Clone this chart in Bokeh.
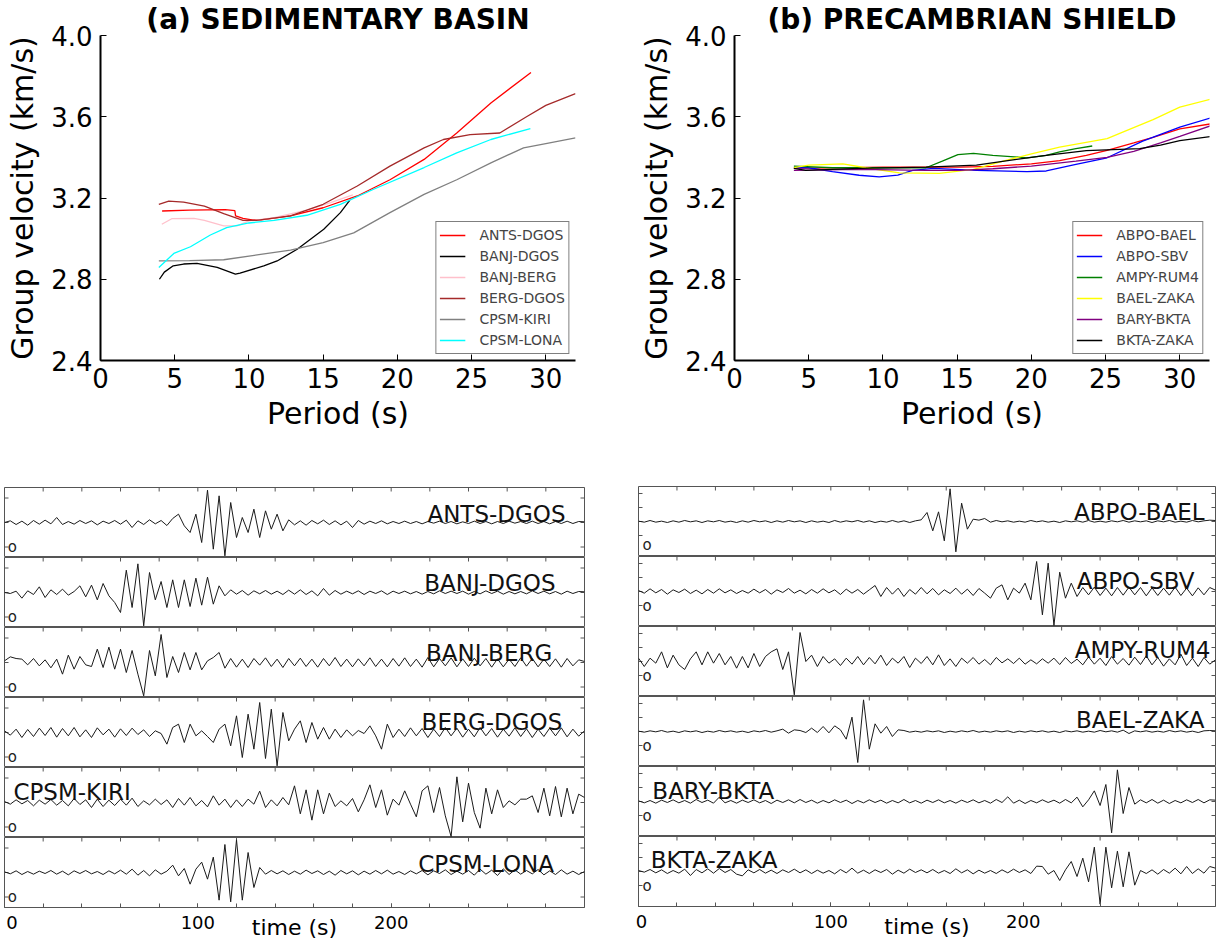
import numpy as np
from bokeh.plotting import figure
from bokeh.models import FixedTicker, PrintfTickFormatter, Range1d, LinearAxis
from bokeh.layouts import row, column
from bokeh.embed import file_html
from bokeh.resources import INLINE
from bokeh.core.properties import value

FONT = "DejaVu Sans"

# ---------------- (a) SEDIMENTARY BASIN : group velocity curves ----------------
a_names = ["ANTS-DGOS", "BANJ-DGOS", "BANJ-BERG", "BERG-DGOS", "CPSM-KIRI", "CPSM-LONA"]
a_colors = ["#ff0000", "#000000", "#ffc0cb", "#a52a2a", "#808080", "#00ffff"]

ants_dgos_period = [4.15, 6.0, 8.4, 9.05, 9.1, 9.6, 10.2, 10.8, 12.8, 15.0, 17.3, 19.5, 21.8, 24.0, 26.3, 29.0]
ants_dgos_vel = [3.136, 3.14, 3.143, 3.138, 3.112, 3.10, 3.092, 3.092, 3.112, 3.152, 3.21, 3.29, 3.39, 3.52, 3.668, 3.818]
banj_dgos_period = [3.97, 4.3, 4.9, 5.6, 6.5, 7.86, 9.09, 9.4, 11.0, 11.9, 13.25, 15.04, 16.16, 16.8]
banj_dgos_vel = [2.80, 2.835, 2.866, 2.875, 2.878, 2.858, 2.825, 2.83, 2.866, 2.89, 2.948, 3.046, 3.128, 3.19]
banj_berg_period = [4.13, 4.8, 6.3, 7.0, 8.3, 9.2, 10.0, 11.7, 13.9, 15.5, 17.0]
banj_berg_vel = [3.071, 3.098, 3.10, 3.09, 3.063, 3.063, 3.087, 3.103, 3.14, 3.177, 3.215]
berg_dgos_period = [3.93, 4.6, 5.6, 7.0, 8.3, 9.6, 10.5, 12.8, 15.0, 17.3, 19.5, 21.8, 23.1, 24.9, 26.9, 28.7, 30.0, 32.0]
berg_dgos_vel = [3.169, 3.185, 3.18, 3.16, 3.123, 3.09, 3.09, 3.112, 3.169, 3.259, 3.357, 3.447, 3.488, 3.512, 3.52, 3.60, 3.656, 3.714]
cpsm_kiri_period = [3.93, 6.0, 8.3, 10.55, 12.8, 15.0, 17.06, 19.5, 21.8, 24.0, 26.3, 28.5, 30.0, 32.0]
cpsm_kiri_vel = [2.89, 2.892, 2.896, 2.92, 2.943, 2.98, 3.028, 3.128, 3.218, 3.29, 3.373, 3.447, 3.468, 3.496]
cpsm_lona_period = [3.93, 4.94, 6.06, 7.4, 8.5, 10.0, 11.7, 13.9, 16.16, 18.4, 21.8, 24.0, 26.3, 28.96]
cpsm_lona_vel = [2.858, 2.927, 2.96, 3.018, 3.054, 3.077, 3.09, 3.115, 3.169, 3.243, 3.35, 3.422, 3.488, 3.542]

# ---------------- (b) PRECAMBRIAN SHIELD : group velocity curves ----------------
b_names = ["ABPO-BAEL", "ABPO-SBV", "AMPY-RUM4", "BAEL-ZAKA", "BARY-BKTA", "BKTA-ZAKA"]
b_colors = ["#ff0000", "#0000ff", "#008000", "#ffff00", "#800080", "#000000"]

abpo_bael_period = [4.0, 10.0, 15.2, 17.4, 20.0, 21.9, 23.7, 25.1, 26.9, 28.2, 30.0, 32.1]
abpo_bael_vel = [3.346, 3.352, 3.352, 3.356, 3.368, 3.384, 3.41, 3.435, 3.471, 3.499, 3.54, 3.565]
abpo_sbv_period = [4.0, 5.0, 6.6, 8.4, 9.75, 11.0, 12.0, 13.4, 16.3, 19.7, 21.0, 23.0, 25.1, 27.5, 30.0, 32.1]
abpo_sbv_vel = [3.349, 3.349, 3.33, 3.312, 3.304, 3.313, 3.336, 3.346, 3.336, 3.33, 3.333, 3.365, 3.398, 3.48, 3.549, 3.595]
ampy_rum4_period = [4.0, 6.6, 12.9, 14.0, 15.05, 16.1, 17.4, 19.7, 21.0, 21.9, 23.0, 24.1]
ampy_rum4_vel = [3.357, 3.349, 3.349, 3.382, 3.414, 3.42, 3.41, 3.398, 3.41, 3.427, 3.443, 3.456]
bael_zaka_period = [4.0, 5.0, 7.3, 8.85, 11.1, 13.8, 16.1, 18.1, 20.0, 21.9, 25.1, 26.4, 28.2, 30.0, 32.1]
bael_zaka_vel = [3.349, 3.362, 3.368, 3.349, 3.324, 3.321, 3.341, 3.382, 3.417, 3.45, 3.492, 3.532, 3.586, 3.647, 3.687]
bary_bkta_period = [4.0, 8.4, 12.9, 15.2, 17.4, 20.0, 23.0, 25.1, 26.9, 28.7, 30.0, 32.1]
bary_bkta_vel = [3.336, 3.341, 3.336, 3.336, 3.344, 3.357, 3.382, 3.40, 3.43, 3.471, 3.503, 3.556]
bkta_zaka_period = [4.0, 4.8, 8.4, 12.9, 16.3, 19.0, 21.0, 23.7, 25.5, 27.3, 28.7, 30.0, 32.1]
bkta_zaka_vel = [3.346, 3.336, 3.346, 3.352, 3.362, 3.39, 3.41, 3.433, 3.438, 3.443, 3.46, 3.482, 3.503]

period_ticks = [0, 5, 10, 15, 20, 25, 30]
velocity_ticks = [2.4, 2.8, 3.2, 3.6, 4.0]

# ---------------- waveforms (amplitude every 3 s, 0..300 s) ----------------
time_step = 3
time_ticks = [0, 100, 200]
time_minor_ticks = [0, 20, 40, 60, 80, 100, 120, 140, 160, 180, 200, 220, 240, 260, 280, 300]

ants_dgos_wave = [
    0.0, 0.5, -0.6, 0.4, -0.8, 0.6, -0.5, 0.7, -0.4, 1.5,
    -0.6, 0.3, -0.5, 0.6, -0.3, 0.5, -0.7, 0.4, -0.3, 0.6,
    -0.5, 0.7, -1.5, 0.5, -0.6, 0.8, -0.4, 0.6, -0.9, 1.2,
    2.5, -1.0, -3.0, 2.5, -6.0, 9.7, -8.0, 8.0, -10.0, 6.0,
    -4.5, 1.5, -3.0, 4.0, -4.5, 3.5, -2.0, 2.5, -2.5, 0.8,
    -0.7, 0.5, -0.8, 0.6, -0.4, 0.7, -0.6, 0.5, -0.7, 0.4,
    -1.5, 0.6, -0.5, 0.4, -0.3, 0.5, -0.4, 0.3, -0.3, 0.4,
    -0.3, 0.3, -0.4, 0.3, -0.2, 0.4, -0.3, 0.3, -0.4, 0.2,
    -0.3, 0.4, -0.3, 0.3, -0.4, 0.3, -0.3, 0.4, -0.2, 0.3,
    -0.3, 0.4, -0.3, 0.3, -0.4, 0.3, -0.3, 0.4, -0.3, 0.3,
    0.2]
banj_dgos_wave = [
    0.0, -0.3, 0.4, -1.7, 0.5, -0.6, 1.7, -1.5, 0.8, -0.6,
    1.0, -0.8, 0.3, 2.0, -1.3, 2.2, -2.2, 2.7, -1.0, -3.0,
    -6.0, 6.7, -4.5, 8.6, -10.0, 6.0, -2.2, 3.3, -4.5, 3.8,
    -4.5, 3.8, -4.2, 4.3, -3.8, 4.6, -3.5, 2.0, -1.0, 0.8,
    -0.5, 0.6, -0.8, 0.5, -0.4, 0.6, -0.5, 0.4, -0.6, 0.7,
    -0.5, 0.8, -0.6, 0.5, -1.0, 1.2, -0.8, 0.6, -0.5, 0.4,
    -0.4, 0.5, -0.6, 0.4, -0.3, 0.5, -0.6, 0.4, -0.3, 0.4,
    -0.4, 0.3, -0.5, 0.3, -0.4, 0.5, -0.3, 0.4, -0.3, 0.4,
    -0.5, 0.3, -0.4, 0.5, -0.3, 0.4, -0.5, 0.3, -0.4, 0.3,
    -0.4, 0.5, -0.3, 0.4, -0.4, 0.3, -0.5, 0.4, -0.3, 0.3,
    0.2]
banj_berg_wave = [
    0.5, 1.7, 1.2, 1.0, -0.7, 1.2, -1.0, 0.8, -1.6, 1.0,
    -3.5, 2.2, -2.0, 1.8, -0.7, -1.2, 4.0, -1.5, 4.6, -2.0,
    4.0, -3.0, 3.6, -3.5, -10.0, 3.6, -4.0, 8.4, -4.5, 1.8,
    -3.0, 3.0, -2.2, 3.0, -2.2, 0.5, 1.5, 3.0, -1.7, 1.2,
    -1.4, 1.0, -1.5, 1.2, -0.8, 1.4, -1.2, 1.0, -1.5, 1.2,
    -1.0, 1.3, -1.2, 1.0, -1.4, 1.2, -1.0, 1.5, -1.2, 1.0,
    -1.3, 1.1, -1.0, 1.4, -1.2, 1.0, -1.3, 1.2, -1.1, 1.4,
    -1.2, 1.0, -1.4, 1.5, -1.3, 1.2, -1.0, 1.4, -1.3, 1.1,
    -1.2, 1.3, -1.0, 1.2, -1.4, 1.1, -1.3, 1.0, -1.2, 1.4,
    -1.1, 1.2, -1.3, 1.0, -1.2, 1.1, -1.4, 1.2, -1.0, 0.8,
    0.3]
berg_dgos_wave = [
    0.5, -0.8, 1.0, -1.5, 0.9, -1.2, 1.3, -0.9, 1.5, -1.4,
    1.2, -1.0, 1.5, -1.3, 0.8, -1.5, 1.4, -0.7, 1.0, -1.4,
    1.1, -0.9, 1.3, -0.6, 0.8, -1.2, 0.5, -0.3, -3.5, 1.5,
    2.5, -3.0, 2.5, -1.0, 0.5, -1.2, -3.0, 1.0, 2.5, -4.0,
    5.0, -7.5, 5.5, -5.0, 9.0, -7.8, 7.0, -10.0, 6.0, -2.5,
    1.0, 3.5, -3.0, 3.0, -2.0, 1.5, -2.0, 1.0, -1.5, 0.8,
    -1.0, 0.6, -0.3, 2.0, -1.0, -5.0, 2.5, -1.5, 1.0, -1.2,
    1.4, -1.0, 1.2, -1.5, 1.0, -1.2, 1.5, -1.0, 1.3, -1.4,
    1.0, -1.3, 1.5, -1.0, 1.2, -1.4, 1.0, -1.1, 1.4, -1.2,
    1.1, -1.5, 1.0, -1.2, 1.3, -1.0, 1.4, -1.3, 1.0, -1.1,
    0.5]
cpsm_kiri_wave = [
    0.3, -0.5, 0.8, -0.4, 0.6, -1.0, 0.7, -0.5, 0.9, -0.8,
    0.6, -1.0, 1.2, -0.6, 0.8, -1.5, 1.0, -1.2, 0.7, -0.9,
    1.0, -0.8, 1.3, -1.2, 0.5, -0.7, 1.0, -0.6, 0.8, -1.5,
    1.2, -0.8, 1.5, -1.0, 0.6, -1.3, 2.0, -0.8, 1.0, -1.5,
    0.8, -1.2, 1.0, -0.5, 3.4, -1.5, 0.8, -1.0, 1.5, -0.7,
    5.0, -3.4, 3.8, -5.3, 3.8, -3.4, 2.8, -1.2, 0.5, -1.0,
    1.2, -2.8, 0.8, 5.3, -1.5, 3.8, -3.8, 1.0, -0.8, 3.5,
    -0.5, -4.3, 3.5, 5.0, -3.0, 4.5, -4.0, -10.2, 7.7, -5.8,
    5.8, -3.0, -7.7, 4.3, -3.4, 3.8, -1.5, 0.5, -0.7, 1.0,
    1.0, 2.0, -3.0, 4.3, -4.0, 4.8, -4.3, 4.3, -3.4, 2.5,
    1.5]
cpsm_lona_wave = [
    0.2, -0.4, 0.5, -0.6, 0.3, -0.5, 0.4, -0.3, 0.6, -0.5,
    0.4, -0.7, 0.5, -0.3, 0.6, -0.4, 0.3, -0.6, 0.5, -0.4,
    0.7, -0.5, 1.0, -0.8, 0.6, -1.0, 0.8, -0.5, 0.4, 2.2,
    -1.0, 1.2, -3.5, 1.0, 3.1, -2.0, 4.6, -8.3, 8.4, -8.8,
    9.8, -8.3, 6.0, -4.5, 1.5, -0.5, 0.6, -0.4, 0.5, -0.6,
    0.4, -0.5, 0.7, -0.3, 0.5, -0.6, 0.4, -0.8, 0.6, -0.4,
    0.5, -0.7, 0.4, -0.5, 0.6, -0.4, 0.7, -0.5, 0.3, -0.6,
    0.5, -0.4, 0.6, -0.7, 0.5, -0.3, 0.8, -0.6, 0.4, -0.5,
    0.6, -0.8, 1.0, -0.5, 0.7, -0.9, 1.1, -0.6, 0.8, -0.5,
    0.6, -0.4, 0.9, -0.7, 0.5, -0.6, 0.8, -0.5, 0.4, -0.6,
    0.3]
abpo_bael_wave = [
    0.1, -0.2, 0.3, -0.2, 0.1, -0.3, 0.2, -0.2, 0.3, -0.1,
    0.2, -0.3, 0.2, -0.1, 0.3, -0.2, 0.1, -0.3, 0.2, -0.2,
    0.3, -0.1, 0.2, -0.3, 0.2, -0.2, 0.3, -0.1, 0.2, -0.3,
    0.2, -0.2, 0.1, -0.3, 0.3, -0.2, 0.2, -0.1, 0.3, -0.2,
    0.2, -0.3, 0.1, -0.2, 0.3, -0.2, 0.2, -0.3, 0.2, 0.5,
    2.7, -2.8, 2.9, -5.8, 9.8, -9.1, 5.5, -2.3, 0.7, 0.4,
    0.9, -0.2, 0.3, -0.1, 0.2, -0.2, 0.1, -0.2, 0.3, -0.1,
    0.2, -0.2, 0.1, -0.3, 0.2, -0.1, 0.2, -0.2, 0.3, -0.2,
    0.1, -0.2, 0.2, -0.1, 0.3, -0.2, 0.2, -0.1, 0.2, -0.3,
    0.2, -0.1, 0.3, -0.2, 0.1, -0.2, 0.3, -0.1, 0.2, 0.4,
    0.3]
abpo_sbv_wave = [
    0.3, -0.5, 0.8, -0.4, 0.6, -0.8, 0.5, -0.3, 0.7, -0.6,
    0.4, -0.7, 0.6, -0.5, 0.8, -0.4, 0.5, -0.6, 0.3, -0.5,
    0.7, -0.4, 0.6, -0.8, 0.5, -0.3, 0.9, -0.5, 0.4, -0.7,
    0.6, -0.5, 0.8, -0.4, 0.5, -0.9, 0.7, -0.5, 0.6, -0.8,
    0.5, 1.8, -1.5, 1.2, -0.8, 1.0, -1.5, 0.6, -0.8, 1.2,
    -0.7, 0.9, -1.0, 0.5, -0.6, 1.0, -0.8, 0.7, -1.2, 0.9,
    -0.5, -2.0, 1.0, 2.0, -2.5, 1.0, -0.5, 2.5, -2.5, 9.0,
    -7.0, 8.5, -10.2, 5.8, -2.0, 2.5, -1.5, 1.2, -1.0, 1.3,
    -1.2, 1.0, -1.3, 1.2, -1.1, 1.3, -1.0, 1.2, -1.3, 1.1,
    -1.2, 1.0, -1.1, 1.3, -1.2, 1.0, -1.3, 1.1, -1.0, 1.2,
    0.4]
ampy_rum4_wave = [
    1.0, -1.5, 1.0, -0.5, 2.9, -1.9, 1.9, -1.0, -2.4, 0.8,
    2.9, -1.0, 2.9, -0.5, 2.4, -1.0, 1.5, -2.0, 1.5, -1.9,
    2.4, -1.5, 1.5, 2.9, 3.8, -2.4, 2.9, -10.0, 8.7, 0.0,
    1.9, -1.5, 1.5, -0.5, 0.8, -1.2, 1.0, -0.8, 1.5, -1.0,
    1.2, -0.7, 1.9, -1.2, 1.0, -0.5, 1.5, -1.8, 1.0, -0.6,
    1.5, -1.0, 2.0, -1.2, 0.8, -1.5, 1.0, -0.5, 1.2, -0.8,
    0.6, -1.0, 1.2, -0.4, 0.8, -0.6, 1.0, -0.8, 0.5, -0.7,
    0.8, -0.5, 1.0, -0.9, 1.2, -0.6, 0.7, -1.0, 1.4, -0.8,
    1.0, -1.2, 1.5, -0.8, 0.9, -1.1, 1.3, -0.9, 1.7, -1.0,
    1.2, -1.4, 0.8, -1.0, 2.2, -1.2, 1.0, -1.5, 1.2, -0.8,
    0.5]
bael_zaka_wave = [
    0.1, -0.2, 0.2, -0.1, 0.3, -0.2, 0.1, -0.3, 0.2, -0.1,
    0.2, -0.3, 0.1, -0.2, 0.3, -0.1, 0.2, -0.2, 0.1, -0.3,
    0.2, -0.1, 0.3, -0.2, 0.2, 0.7, -0.5, 0.5, 0.3, -0.3,
    1.0, -0.3, 1.5, -0.4, 1.7, 0.5, -2.3, 4.3, -9.3, 9.5,
    -5.3, 2.3, -0.5, 1.5, -1.5, 0.5, 0.3, -0.2, 0.1, -0.2,
    0.2, -0.1, 0.2, -0.3, 0.1, -0.2, 0.2, -0.1, 0.3, -0.2,
    0.1, -0.2, 0.2, -0.1, 0.2, -0.3, 0.1, -0.2, 0.2, -0.1,
    0.2, -0.2, 0.1, -0.3, 0.2, -0.1, 0.2, -0.2, 0.1, -0.2,
    0.3, -0.1, 0.2, -0.2, 0.4, -0.6, 0.2, -0.1, 0.2, -0.2,
    0.1, -0.2, 0.3, -0.1, 0.2, -0.2, 0.1, -0.3, 0.2, 0.3,
    0.2]
bary_bkta_wave = [
    0.2, -0.4, 0.3, -0.5, 0.4, -0.3, 0.5, -0.4, 0.3, -0.5,
    0.6, -0.3, 0.4, -0.5, 1.3, -0.4, 0.3, -0.5, 0.4, -0.3,
    0.5, -0.4, 0.3, -0.6, 0.4, -0.3, 0.5, -0.4, 0.6, -0.3,
    0.4, -0.5, 0.3, -0.4, 0.5, -0.3, 0.4, -0.6, 0.3, -0.4,
    0.5, -0.3, 0.4, -0.5, 0.3, -0.4, 0.6, -0.4, 0.3, -0.5,
    0.4, -0.3, 0.5, -0.4, 0.3, -0.5, 0.4, -0.3, 0.5, -0.4,
    0.3, -0.5, 0.6, -0.3, 1.4, -0.5, 0.4, -0.6, 0.3, -0.4,
    0.5, -0.3, 0.4, -0.5, 0.6, -0.4, 1.3, -1.6, 0.5, 3.2,
    -1.2, 5.1, -9.4, 9.5, -3.6, 4.2, -0.8, 0.5, -0.4, 0.6,
    -0.5, 0.4, -0.6, 0.3, -0.4, 0.5, -0.3, 0.6, -0.4, 0.5,
    0.4]
bkta_zaka_wave = [
    0.3, -0.2, 0.6, -0.4, 0.5, -0.6, 0.3, -0.5, 0.7, -1.2,
    0.6, -0.4, 0.8, -0.5, 0.9, -0.3, 0.6, -0.8, -1.3, 0.5,
    -0.4, 0.6, -0.5, 0.4, -0.6, 0.5, -0.3, 0.7, -0.4, 0.5,
    -0.6, 0.4, -0.5, 0.3, -0.7, 0.6, -0.4, 1.0, -0.5, 0.4,
    -0.6, 0.5, -0.3, 0.6, -0.8, 0.4, -0.5, 0.7, -0.3, 0.5,
    -0.4, 0.6, -0.5, 0.3, -0.6, 0.8, -0.4, 0.5, -0.7, 0.4,
    -0.5, 0.3, -0.6, 0.5, -0.4, 0.7, -0.3, 0.5, -0.6, 1.6,
    1.5, -0.8, 0.3, -2.7, 0.5, 3.0, -1.5, 4.0, -3.1, 7.3,
    -9.8, 7.3, -4.9, 6.1, -4.6, 5.9, -4.1, 0.3, -0.6, 0.5,
    -0.8, 0.6, -0.5, 1.0, -0.7, 1.5, -0.6, 0.8, -0.5, 1.5,
    1.0]

left_waves = [ants_dgos_wave, banj_dgos_wave, banj_berg_wave, berg_dgos_wave, cpsm_kiri_wave, cpsm_lona_wave]
right_waves = [abpo_bael_wave, abpo_sbv_wave, ampy_rum4_wave, bael_zaka_wave, bary_bkta_wave, bkta_zaka_wave]

# label anchors (time in s, amplitude units, alignment) for the station-pair names
left_label_pos = [(290.2, 2.5, "right"), (285.0, 3.0, "right"), (283.3, 3.0, "right"),
                  (288.5, 3.2, "right"), (4.6, 3.15, "left"), (284.2, 2.5, "right")]
right_label_pos = [(294.3, 2.8, "right"), (289.1, 3.3, "right"), (297.4, 3.4, "right"),
                   (294.3, 3.4, "right"), (7.2, 3.2, "left"), (6.4, 3.4, "left")]
left_o_pos = [(4.0, -7.35)] * 6
right_o_pos = [(4.5, -6.9)] + [(4.5, -4.2)] * 5
left_yticks = [-7.35, 0, 7.35]
right_yticks = [-4.2, 0, 4.2, 8.4]

PANEL_H = 70
Y_HALF = 10.5
TICK_PX = 4


def dispersion_fig(title, names, colors, periods, vels, lb, rb):
    p = figure(frame_width=475, frame_height=325, x_range=Range1d(0, 32), y_range=Range1d(2.4, 4.0),
               output_backend="svg", toolbar_location=None,
               min_border_left=lb, min_border_right=rb, min_border_top=34, min_border_bottom=126)
    p.title.text = title
    p.title.text_font = FONT
    p.title.text_font_size = "28px"
    p.title.text_font_style = "bold"
    p.title.text_color = "black"
    p.title.align = "center"
    p.title.standoff = 0
    p.title.offset = 0
    p.outline_line_color = None
    p.grid.grid_line_color = None
    for nm, c, x, y in zip(names, colors, periods, vels):
        p.line(x, y, line_color=c, line_width=1.3, legend_label=nm)
    p.xaxis.ticker = FixedTicker(ticks=period_ticks)
    p.yaxis.ticker = FixedTicker(ticks=velocity_ticks)
    p.yaxis.formatter = PrintfTickFormatter(format="%.1f")
    for ax in (p.xaxis, p.yaxis):
        ax.axis_line_width = 2
        ax.axis_line_color = "black"
        ax.major_tick_in = 6
        ax.major_tick_out = 0
        ax.major_tick_line_color = "black"
        ax.minor_tick_line_color = None
        ax.major_label_text_font = FONT
        ax.major_label_text_font_size = "26px"
        ax.major_label_text_color = "black"
        ax.axis_label_text_font = FONT
        ax.axis_label_text_font_size = "30px"
        ax.axis_label_text_font_style = "normal"
        ax.axis_label_text_color = "black"
    p.xaxis.axis_label = "Period (s)"
    p.yaxis.axis_label = "Group velocity (km/s)"
    p.xaxis.major_label_standoff = 7
    p.xaxis.axis_label_standoff = 5
    p.yaxis.major_label_standoff = 8
    p.yaxis.axis_label_standoff = 8
    lg = p.legend[0]
    lg.location = "bottom_right"
    lg.margin = 6
    lg.padding = 3
    lg.spacing = 1
    lg.glyph_width = 26
    lg.glyph_height = 20
    lg.label_height = 20
    lg.label_standoff = 14
    lg.label_text_font = FONT
    lg.label_text_font_size = "14px"
    lg.border_line_color = "black"
    lg.border_line_width = 1
    lg.background_fill_alpha = 1.0
    return p


def wave_panel(wave, name, lpos, opos, yticks, fw, lb, rb, tb=0, last=False, bb=36):
    time_s = np.arange(0, 301, time_step)
    p = figure(frame_width=fw, frame_height=PANEL_H, x_range=Range1d(0, 300), y_range=Range1d(-Y_HALF, Y_HALF),
               x_axis_location=None, y_axis_location=None, output_backend="svg", toolbar_location=None,
               min_border_left=lb, min_border_right=rb, min_border_top=tb,
               min_border_bottom=bb if last else 0)
    p.grid.grid_line_color = None
    p.outline_line_color = "#555555"
    p.outline_line_width = 1
    # inward tick marks along the top edge and both sides (from the tick lists)
    ty = TICK_PX * 2 * Y_HALF / PANEL_H
    tx = TICK_PX * 300.0 / fw
    n = len(time_minor_ticks)
    p.segment(x0=time_minor_ticks, y0=[Y_HALF] * n, x1=time_minor_ticks, y1=[Y_HALF - ty] * n,
              line_color="#555555", line_width=1)
    m = len(yticks)
    p.segment(x0=[0] * m, y0=yticks, x1=[tx] * m, y1=yticks, line_color="#555555", line_width=1)
    p.segment(x0=[300] * m, y0=yticks, x1=[300 - tx] * m, y1=yticks, line_color="#555555", line_width=1)
    p.line(time_s, wave, line_color="#1a1a1a", line_width=1)
    p.text(x=[lpos[0]], y=[lpos[1]], text=[name], text_font=value(FONT), text_font_size="23px",
           text_baseline="alphabetic", text_align=lpos[2], text_color="#111111")
    p.text(x=[opos[0]], y=[opos[1]], text=["o"], text_font=value(FONT), text_font_size="15px",
           text_baseline="middle", text_align="center", text_color="#222222")
    if last:
        bx = LinearAxis(ticker=FixedTicker(ticks=time_ticks, minor_ticks=time_minor_ticks))
        bx.major_label_overrides = {0: "\u00a00"}
        bx.major_label_text_font = FONT
        bx.major_label_text_font_size = "18px"
        bx.major_label_text_color = "black"
        bx.major_label_standoff = 4
        bx.major_tick_in = 4
        bx.major_tick_out = 0
        bx.minor_tick_in = 4
        bx.minor_tick_out = 0
        bx.axis_line_color = None
        bx.major_tick_line_color = "#555555"
        bx.minor_tick_line_color = "#555555"
        bx.axis_label = "time (s)"
        bx.axis_label_text_font = FONT
        bx.axis_label_text_font_size = "22px"
        bx.axis_label_text_font_style = "normal"
        bx.axis_label_text_color = "black"
        bx.axis_label_standoff = -21
        p.add_layout(bx, "below")
    return p


fa = dispersion_fig("(a) SEDIMENTARY BASIN", a_names, a_colors,
                    [ants_dgos_period, banj_dgos_period, banj_berg_period, berg_dgos_period, cpsm_kiri_period, cpsm_lona_period],
                    [ants_dgos_vel, banj_dgos_vel, banj_berg_vel, berg_dgos_vel, cpsm_kiri_vel, cpsm_lona_vel],
                    100, 35)
fb = dispersion_fig("(b) PRECAMBRIAN SHIELD", b_names, b_colors,
                    [abpo_bael_period, abpo_sbv_period, ampy_rum4_period, bael_zaka_period, bary_bkta_period, bkta_zaka_period],
                    [abpo_bael_vel, abpo_sbv_vel, ampy_rum4_vel, bael_zaka_vel, bary_bkta_vel, bkta_zaka_vel],
                    124, 12)

left_panels = []
for i, (w, nm) in enumerate(zip(left_waves, a_names)):
    left_panels.append(wave_panel(w, nm, left_label_pos[i], left_o_pos[i], left_yticks, 580, 4, 26,
                                  tb=1 if i == 0 else 0, last=(i == 5), bb=35))
right_panels = []
for i, (w, nm) in enumerate(zip(right_waves, b_names)):
    right_panels.append(wave_panel(w, nm, right_label_pos[i], right_o_pos[i], right_yticks, 577, 28, 6,
                                   tb=0, last=(i == 5), bb=36))

layout = column(row(fa, fb), row(column(*left_panels), column(*right_panels)))

open("out.html", "w").write(file_html(layout, INLINE))
